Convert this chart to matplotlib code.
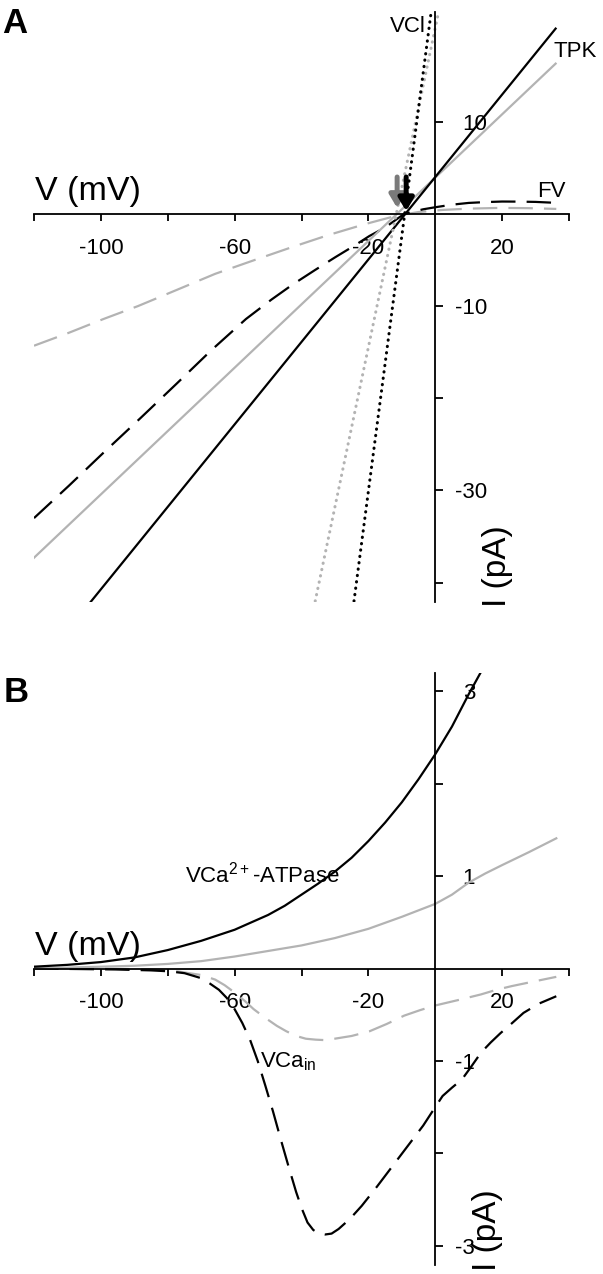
import matplotlib
matplotlib.use("Agg")
import matplotlib.pyplot as plt

plt.rcParams["font.family"] = ["Liberation Sans", "DejaVu Sans"]
plt.rcParams["mathtext.fontset"] = "custom"
plt.rcParams["mathtext.rm"] = "Liberation Sans"
plt.rcParams["mathtext.it"] = "Liberation Sans:italic"
plt.rcParams["mathtext.bf"] = "Liberation Sans:bold"

GRAY = "#b3b3b3"
ARROW_GRAY = "#7a7a7a"
W, H = 603, 1274

# %% Panel A data (mV, pA)
tpk_black_v = [-103.3, 36.0]
tpk_black_i = [-42.2, 20.1]
tpk_gray_v = [-120.0, 36.0]
tpk_gray_i = [-37.3, 16.3]

vcl_black_v = [-24.3, -1.3]
vcl_black_i = [-42.0, 21.7]
vcl_gray_v = [-35.9, 1.0]
vcl_gray_i = [-42.0, 21.9]

fv_black_v = [-120, -109.6, -99.2, -88.3, -77.3, -67.0, -56.6, -49.0, -42.8, -36.0,
              -29.9, -24.0, -19.7, -15.1, -9.3, -3.6, 0, 5, 10, 15, 20, 25, 30, 36]
fv_black_i = [-33.0, -29.5, -25.9, -22.2, -18.4, -14.8, -11.4, -9.3, -7.7, -6.1,
              -4.7, -3.4, -2.4, -1.5, 0.0, 0.5, 0.72, 1.0, 1.19, 1.28, 1.34, 1.33, 1.3, 1.2]

fv_gray_v = [-120, -109.6, -99.2, -88.9, -77.0, -65.8, -54.0, -42.8, -32.0,
             -20.9, -11.6, -5.0, 2.2, 10.0, 19.5, 28.0, 36.2]
fv_gray_i = [-14.3, -12.9, -11.4, -10.0, -8.2, -6.5, -5.0, -3.6, -2.3,
             -1.1, -0.2, 0.2, 0.43, 0.57, 0.65, 0.62, 0.54]

reversal_v = [-11.4, -8.7]
arrow_top_i = [4.0, 4.0]
arrow_tip_i = [0.65, 0.3]

# %% Panel B data (mV, pA)
atp_black_v = [-120, -110, -100, -90, -80, -75, -70, -65, -60, -55, -50, -45,
               -40, -35, -30, -25, -20, -15, -10, -5, 0, 5, 10, 13.5]
atp_black_i = [0.02, 0.04, 0.07, 0.12, 0.2, 0.25, 0.3, 0.36, 0.42, 0.5, 0.58, 0.68,
               0.8, 0.92, 1.05, 1.2, 1.38, 1.58, 1.8, 2.05, 2.32, 2.62, 2.97, 3.2]

atp_gray_v = [-120, -110, -100, -90, -80, -70, -60, -50, -40, -30, -20, -10,
              -5, 0, 5, 10, 15, 20, 28, 36.2]
atp_gray_i = [0.0, 0.01, 0.02, 0.03, 0.05, 0.08, 0.13, 0.19, 0.25, 0.33, 0.43, 0.56,
              0.63, 0.70, 0.80, 0.93, 1.03, 1.12, 1.26, 1.41]

vcain_gray_v = [-120, -100, -85, -77.3, -70, -65.8, -63, -60, -57, -54.3, -51, -47.4,
                -44.5, -41.6, -38.7, -35.8, -33, -30.1, -25, -19.7, -14.5, -9.3,
                -4.5, 0, 7, 13.7, 18.3, 22.9, 29.5, 36.2]
vcain_gray_i = [0.0, 0.0, -0.01, -0.03, -0.07, -0.12, -0.18, -0.26, -0.35, -0.44, -0.53, -0.62,
                -0.68, -0.73, -0.76, -0.77, -0.775, -0.76, -0.73, -0.68, -0.60, -0.51,
                -0.45, -0.40, -0.34, -0.28, -0.23, -0.19, -0.14, -0.09]

vcain_black_v = [-120, -95.8, -85, -79.7, -75, -70.4, -67.5, -64.7, -62.3, -60, -57.7,
                 -55.4, -53.1, -50.8, -48.5, -46.2, -43.9, -41.6, -39.9, -38.2, -36.5,
                 -34.8, -33, -31, -28.9, -25.5, -22, -17.4, -12.8, -8.2, -3.6, 0, 2.2,
                 5, 8, 10.8, 13.7, 16.6, 19.5, 23, 26.4, 31, 36.2]
vcain_black_i = [0.0, -0.01, -0.02, -0.03, -0.05, -0.10, -0.16, -0.23, -0.32, -0.44, -0.59,
                 -0.77, -1.0, -1.27, -1.55, -1.85, -2.14, -2.42, -2.6, -2.75, -2.83,
                 -2.87, -2.88, -2.87, -2.82, -2.71, -2.57, -2.36, -2.14, -1.92, -1.70, -1.5, -1.38,
                 -1.29, -1.2, -1.06, -0.91, -0.80, -0.70, -0.59, -0.48, -0.38, -0.30]

x_ticks = [-120, -100, -80, -60, -40, -20, 20, 40]
x_labels = ["", "-100", "", "-60", "", "-20", "20", ""]
a_yticks = [10, -10, -20, -30, -40]
a_ylabels = ["10", "-10", "", "-30", ""]
b_yticks = [3, 2, 1, -1, -2, -3]
b_ylabels = ["3", "", "1", "-1", "", "-3"]


def fx(px):
    return px / W


def fy(py):
    return 1 - py / H


def setup(ax, ylim, yticks, ylabels, ypad):
    ax.set_xlim(-120, 40)
    ax.set_ylim(*ylim)
    ax.patch.set_visible(False)
    for s in ["top", "right"]:
        ax.spines[s].set_visible(False)
    for s in ["left", "bottom"]:
        ax.spines[s].set_position(("data", 0))
        ax.spines[s].set_linewidth(1.3)
    ax.set_xticks(x_ticks)
    ax.set_xticklabels(x_labels)
    ax.set_yticks(yticks)
    ax.set_yticklabels(ylabels)
    ax.tick_params(axis="x", direction="out", length=5, width=1.3, pad=12, labelsize=16)
    ax.tick_params(axis="y", direction="in", length=5.5, width=1.3, pad=ypad, labelsize=16)
    for lab in ax.get_yticklabels():
        lab.set_horizontalalignment("right")


fig = plt.figure(figsize=(W / 100, H / 100), dpi=100)

# %% Panel A
axA = fig.add_axes([fx(34), fy(602), fx(569) - fx(34), fy(12) - fy(602)])
setup(axA, (-42.1, 21.9), a_yticks, a_ylabels, -37.4)

dash = (0, (11, 5))
dot = (0, (0.1, 2.0))
axA.plot(fv_gray_v, fv_gray_i, color=GRAY, lw=1.6, linestyle=dash)
axA.plot(fv_black_v, fv_black_i, color="k", lw=1.6, linestyle=dash)
axA.plot(tpk_gray_v, tpk_gray_i, color=GRAY, lw=1.6)
axA.plot(tpk_black_v, tpk_black_i, color="k", lw=1.6)
axA.plot(vcl_gray_v, vcl_gray_i, color=GRAY, lw=2.2, linestyle=dot, dash_capstyle="round")
axA.plot(vcl_black_v, vcl_black_i, color="k", lw=2.2, linestyle=dot, dash_capstyle="round")

for v, top, tip, c in zip(reversal_v, arrow_top_i, arrow_tip_i, [ARROW_GRAY, "k"]):
    axA.annotate("", xy=(v, tip), xytext=(v, top),
                 arrowprops=dict(arrowstyle="-|>,head_length=0.75,head_width=0.45",
                                 color=c, lw=3.6, shrinkA=0, shrinkB=0,
                                 mutation_scale=10))

# %% Panel B
axB = fig.add_axes([fx(34), fy(1265), fx(569) - fx(34), fy(673) - fy(1265)])
setup(axB, (-3.21, 3.2), b_yticks, b_ylabels, -28.8)

axB.plot(vcain_gray_v, vcain_gray_i, color=GRAY, lw=1.6, linestyle=dash)
axB.plot(vcain_black_v, vcain_black_i, color="k", lw=1.6, linestyle=dash)
axB.plot(atp_gray_v, atp_gray_i, color=GRAY, lw=1.6)
axB.plot(atp_black_v, atp_black_i, color="k", lw=1.6)

# %% Text
fig.text(fx(2), fy(33), "A", fontsize=25, fontweight="bold", va="baseline")
fig.text(fx(4), fy(702), "B", fontsize=25, fontweight="bold", va="baseline")

fig.text(fx(35), fy(200), "V (mV)", fontsize=24.5, va="baseline")
fig.text(fx(35), fy(955), "V (mV)", fontsize=24.5, va="baseline")
fig.text(fx(506), fy(607), "I (pA)", fontsize=24, rotation=90,
         rotation_mode="anchor", ha="left", va="baseline")
fig.text(fx(496), fy(1271), "I (pA)", fontsize=24, rotation=90,
         rotation_mode="anchor", ha="left", va="baseline")

fig.text(fx(390), fy(32), "VCl", fontsize=16, va="baseline")
fig.text(fx(554), fy(57), "TPK", fontsize=16, va="baseline")
fig.text(fx(537), fy(197), "FV", fontsize=16, va="baseline")
fig.text(fx(185), fy(883), "VCa$^{\\mathrm{2+}}$-ATPase", fontsize=16, va="baseline")
fig.text(fx(260), fy(1067), "VCa$_{\\mathrm{in}}$", fontsize=16, va="baseline")

fig.savefig("out.png", dpi=100)
